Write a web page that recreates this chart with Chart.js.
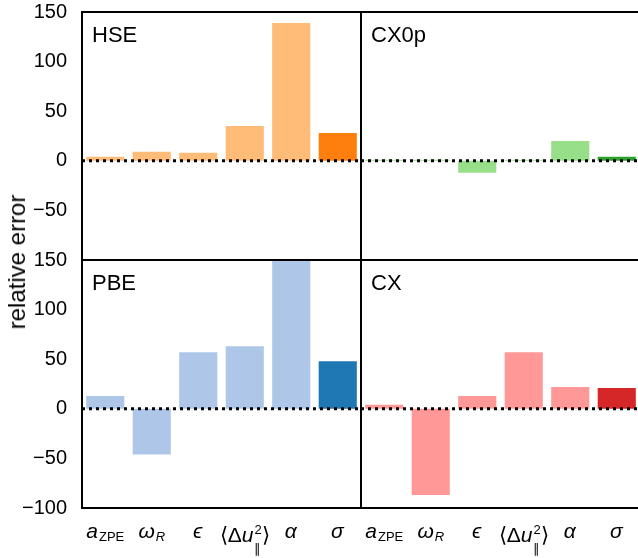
<!DOCTYPE html>
<html>
<head>
<meta charset="utf-8">
<script src="https://cdn.jsdelivr.net/npm/chart.js@4/dist/chart.umd.min.js"></script>
<style>
  body { margin: 0; background: #fff; }
  #wrap { position: relative; width: 638px; height: 558px; overflow: hidden; }
  #wrap canvas { position: absolute; }
  .ylabel {
    position: absolute; left: 17px; top: 262px;
    transform: translate(-50%, -50%) rotate(-90deg);
    font: 24px "Liberation Sans", Arial, sans-serif; white-space: nowrap; color: #000;
  }
</style>
</head>
<body>
<div id="wrap">
  <canvas id="hse" width="361" height="302" style="left:0;top:-15px"></canvas>
  <canvas id="cx0p" width="289" height="302" style="left:351px;top:-15px"></canvas>
  <canvas id="pbe" width="361" height="325" style="left:0;top:233px"></canvas>
  <canvas id="cx" width="289" height="325" style="left:351px;top:233px"></canvas>
  <div class="ylabel">relative error</div>
</div>
<script>
// tick labels, with _{} for subscript and ^{} for superscript
const categories = ['a_{ZPE}', 'ω_{R}', 'ϵ', '⟨Δu^{2}_{∥}⟩', 'α', 'σ']
const panelNames = ['HSE', 'CX0p', 'PBE', 'CX']

const hse = [4, 9, 8, 35, 139, 28]
const cx0p = [1, 1, -12, 1, 20, 4]
const pbe = [13, -46, 57, 63, 160, 48]
const cx = [4, -87, 13, 57, 22, 21]

const lightColors = ['#ffbb78', '#98df8a', '#aec7e8', '#ff9896']
const darkColors = ['#ff7f0e', '#2ca02c', '#1f77b4', '#d62728']

const FONT = '"Liberation Sans", Arial, sans-serif'

function parseLabel(s) {
    const segs = []
    let i = 0
    while (i < s.length) {
        const c = s[i]
        if ((c === '_' || c === '^') && s[i + 1] === '{') {
            const end = s.indexOf('}', i)
            segs.push({ t: s.slice(i + 2, end), kind: c === '_' ? 'sub' : 'sup' })
            i = end + 1
        } else {
            segs.push({ t: c, kind: 'main' })
            i++
        }
    }
    return segs
}

function segFont(s) {
    const letter = /^[a-zA-Zα-ωϵ]$/.test(s.t)
    const size = s.kind === 'main' ? 21 : 13
    return (letter ? 'italic ' : '') + size + 'px ' + FONT
}

function drawLabel(ctx, text, cx, baseline) {
    const segs = parseLabel(text)
    const items = []
    let x = 0
    const hasSup = segs.some(s => s.kind === 'sup')
    segs.forEach((s, k) => {
        const font = segFont(s)
        ctx.font = font
        const w = ctx.measureText(s.t).width
        const prev = segs[k - 1]
        if (s.kind === 'sub' && prev && prev.kind === 'sup') {
            const p = items[items.length - 1]
            items.push({ t: s.t, font, x: p.x, dy: 11 })
            x = p.x + Math.max(p.w, w)
        } else {
            const dy = s.kind === 'sub' ? 3 : s.kind === 'sup' ? -8 : 0
            items.push({ t: s.t, font, x, dy, w })
            x += w + (s.kind === 'main' && /italic/.test(font) ? 1 : 0)
        }
    })
    const x0 = cx - x / 2
    const base = baseline + (hasSup ? 4 : 0)
    items.forEach(it => {
        ctx.font = it.font
        ctx.fillText(it.t, x0 + it.x, base + it.dy)
    })
}

const panelPlugin = {
    id: 'panel',
    afterDatasetsDraw(chart, args, opts) {
        const ctx = chart.ctx
        const a = chart.chartArea
        const y0 = chart.scales.y.getPixelForValue(0)

        // dotted zero line
        ctx.save()
        ctx.beginPath()
        ctx.rect(a.left, a.top, a.right - a.left, a.bottom - a.top)
        ctx.clip()
        ctx.setLineDash([3, 4])
        ctx.lineWidth = 3
        ctx.strokeStyle = '#000'
        ctx.beginPath()
        ctx.moveTo(a.left, y0)
        ctx.lineTo(a.right, y0)
        ctx.stroke()
        ctx.restore()

        // frame
        ctx.save()
        ctx.lineWidth = 2
        ctx.strokeStyle = '#000'
        ctx.strokeRect(a.left, a.top, a.right - a.left, a.bottom - a.top)
        ctx.restore()

        // panel name
        ctx.save()
        ctx.fillStyle = '#000'
        ctx.font = '22px ' + FONT
        ctx.textBaseline = 'alphabetic'
        ctx.fillText(opts.title, a.left + 10, a.top + 30)
        ctx.restore()

        // x tick labels
        if (opts.showX) {
            ctx.save()
            ctx.fillStyle = '#000'
            ctx.textBaseline = 'alphabetic'
            categories.forEach((c, i) => {
                drawLabel(ctx, c, chart.scales.x.getPixelForValue(i), a.bottom + 30)
            })
            ctx.restore()
        }
    }
}

function makePanel(id, idx, values, opts) {
    const colors = values.map((v, i) => i === values.length - 1 ? darkColors[idx] : lightColors[idx])
    return new Chart(document.getElementById(id), {
        type: 'bar',
        data: {
            labels: categories,
            datasets: [{
                data: values,
                backgroundColor: colors,
                borderWidth: 0,
                barPercentage: 0.82,
                categoryPercentage: 1
            }]
        },
        options: {
            responsive: false,
            animation: false,
            layout: { padding: opts.padding },
            plugins: {
                legend: { display: false },
                tooltip: { enabled: false },
                panel: { title: panelNames[idx], showX: opts.showX }
            },
            scales: {
                x: { display: false },
                y: {
                    display: opts.showY,
                    min: -100,
                    max: 150,
                    grid: { display: false, drawTicks: false },
                    border: { display: false },
                    ticks: {
                        stepSize: 50,
                        padding: 15,
                        color: '#000',
                        font: { size: 20, family: FONT },
                        callback: v => v < 0 ? '\u2212' + Math.abs(v) : v
                    },
                    afterFit: s => { if (opts.showY) s.width = 82 },
                    afterBuildTicks: s => {
                        if (opts.hideMin) s.ticks = s.ticks.filter(t => t.value > -100)
                    }
                }
            }
        },
        plugins: [panelPlugin]
    })
}

makePanel('hse', 0, hse, { showY: true, showX: false, hideMin: true, padding: { top: 27, bottom: 27, left: 0, right: 0 } })
makePanel('cx0p', 1, cx0p, { showY: false, showX: false, padding: { top: 27, bottom: 27, left: 10, right: 0 } })
makePanel('pbe', 2, pbe, { showY: true, showX: true, padding: { top: 27, bottom: 50, left: 0, right: 0 } })
makePanel('cx', 3, cx, { showY: false, showX: true, padding: { top: 27, bottom: 50, left: 10, right: 0 } })
</script>
</body>
</html>
